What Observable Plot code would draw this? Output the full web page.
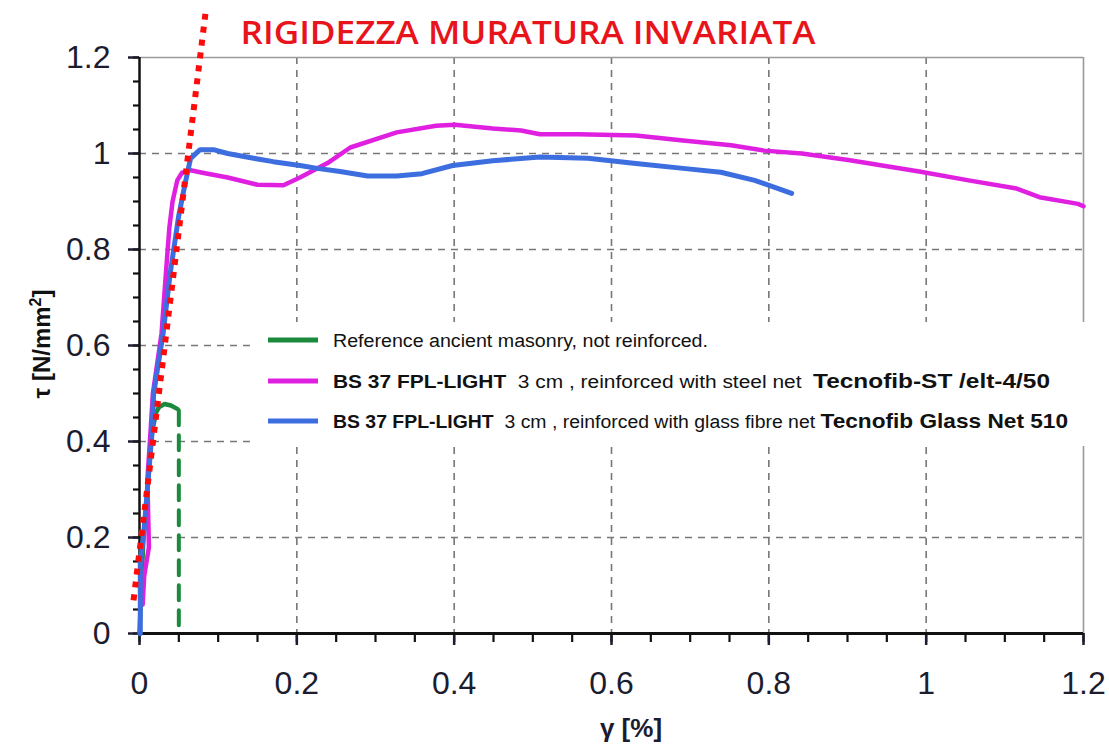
<!DOCTYPE html>
<html>
<head>
<meta charset="utf-8">
<script src="https://cdn.jsdelivr.net/npm/d3@7"></script>
<script src="https://cdn.jsdelivr.net/npm/@observablehq/plot@0.6"></script>
<style>
  html, body { margin: 0; padding: 0; background: #fff; }
  #chart svg { display: block; }
</style>
</head>
<body>
<div id="chart"></div>
<script>
// ---- Data ----
const titleText = "RIGIDEZZA MURATURA INVARIATA";
const xTicks = [0, 0.2, 0.4, 0.6, 0.8, 1, 1.2];
const yTicks = [0, 0.2, 0.4, 0.6, 0.8, 1, 1.2];
const xMinor = d3.range(0, 1.2001, 0.05);
const yMinor = d3.range(0, 1.2001, 0.05);
const xGridTicks = [0.2, 0.4, 0.6, 0.8, 1];
const yGridTicks = [0.2, 0.4, 0.6, 0.8, 1];

// Reference ancient masonry (green)
const gammaRef = [0, 0.005, 0.011, 0.016, 0.021, 0.025, 0.032, 0.04, 0.048];
const tauRef   = [0, 0.2, 0.32, 0.42, 0.46, 0.472, 0.478, 0.475, 0.468];
const gammaRefDrop = [0.05, 0.05];
const tauRefDrop   = [0.465, 0];

// Steel net Tecnofib-ST (magenta)
const gammaSteel = [0.004, 0.006, 0.012, 0.01, 0.014, 0.017, 0.028, 0.034, 0.038, 0.042, 0.048, 0.054, 0.065, 0.08, 0.112, 0.15, 0.183, 0.204, 0.239, 0.268, 0.327, 0.377, 0.401, 0.449, 0.485, 0.509, 0.558, 0.631, 0.691, 0.752, 0.794, 0.842, 0.903, 0.993, 1.054, 1.115, 1.144, 1.193, 1.2];
const tauSteel   = [0.06, 0.12, 0.18, 0.32, 0.42, 0.5, 0.625, 0.76, 0.846, 0.9, 0.944, 0.96, 0.965, 0.96, 0.95, 0.935, 0.934, 0.95, 0.98, 1.0125, 1.044, 1.058, 1.06, 1.052, 1.048, 1.04, 1.04, 1.0375, 1.027, 1.017, 1.006, 1.0, 0.986, 0.962, 0.944, 0.927, 0.909, 0.895, 0.89];

// Glass fibre net Tecnofib Glass Net 510 (blue)
const gammaGlass = [0.001, 0.001, 0.005, 0.011, 0.016, 0.018, 0.03, 0.039, 0.0495, 0.058, 0.065, 0.077, 0.094, 0.112, 0.145, 0.17, 0.204, 0.226, 0.255, 0.29, 0.327, 0.359, 0.398, 0.449, 0.509, 0.57, 0.631, 0.691, 0.739, 0.782, 0.829];
const tauGlass   = [0, 0.15, 0.2, 0.32, 0.42, 0.5, 0.625, 0.75, 0.867, 0.9375, 0.99, 1.008, 1.008, 1.0, 0.99, 0.983, 0.975, 0.969, 0.9625, 0.953, 0.953, 0.958, 0.975, 0.985, 0.9925, 0.99, 0.979, 0.969, 0.961, 0.944, 0.917];

// "Rigidezza" stiffness line (red dotted)
const gammaStiff = [-0.0076, 0.084];
const tauStiff   = [0.069, 1.294];

const legendLabels = [
  {color: "#1b8a3c", parts: [["Reference ancient masonry, not reinforced.", "normal", 18]]},
  {color: "#e020e0", parts: [["BS 37 FPL-LIGHT", "bold", 18], ["  3 cm , reinforced with steel net  ", "normal", 18], ["Tecnofib-ST /elt-4/50", "bold", 21]]},
  {color: "#3d6ee0", parts: [["BS 37 FPL-LIGHT", "bold", 18], ["  3 cm , reinforced with glass fibre net ", "normal", 18], ["Tecnofib Glass Net 510", "bold", 21]]}
];

// ---- Build tables ----
const zip = (xs, ys) => xs.map((x, i) => ({x, y: ys[i]}));
const ref = zip(gammaRef, tauRef);
const refDrop = zip(gammaRefDrop, tauRefDrop);
const steel = zip(gammaSteel, tauSteel);
const glass = zip(gammaGlass, tauGlass);
const stiff = zip(gammaStiff, tauStiff);

const sans = "'Liberation Sans', Arial, sans-serif";
const fmt = d => String(+(+d).toFixed(1));

const chart = Plot.plot({
  width: 1109,
  height: 744,
  marginLeft: 139,
  marginRight: 26,
  marginTop: 57,
  marginBottom: 111,
  x: {domain: [0, 1.2]},
  y: {domain: [0, 1.2]},
  style: {fontFamily: sans, background: "#fff", overflow: "visible"},
  marks: [
    Plot.gridX({ticks: xGridTicks, stroke: "#777", strokeOpacity: 1, strokeWidth: 1.6, strokeDasharray: "7,6"}),
    Plot.gridY({ticks: yGridTicks, stroke: "#777", strokeOpacity: 1, strokeWidth: 1.6, strokeDasharray: "7,6"}),
    Plot.ruleY([1.2], {stroke: "#9a9a9a", strokeWidth: 1.6}),
    Plot.ruleX([1.2], {stroke: "#9a9a9a", strokeWidth: 1.6}),
    Plot.axisX({ticks: xMinor, tickSize: 9, tickFormat: () => "", strokeWidth: 2.2, color: "#111", label: null}),
    Plot.axisX({ticks: xTicks, tickSize: 12, tickPadding: 26, fontSize: 32, tickFormat: fmt, strokeWidth: 2.5, color: "#1c1c30", label: null}),
    Plot.axisY({ticks: yMinor, tickSize: 6, tickFormat: () => "", strokeWidth: 2.2, color: "#111", label: null}),
    Plot.axisY({ticks: yTicks, tickSize: 11, tickPadding: 18, fontSize: 32, tickFormat: fmt, strokeWidth: 2.5, color: "#1c1c30", label: null}),
    Plot.ruleX([0], {stroke: "#111", strokeWidth: 2.5}),
    Plot.ruleY([0], {stroke: "#111", strokeWidth: 3}),
    Plot.line(refDrop, {x: "x", y: "y", stroke: "#1b8a3c", strokeWidth: 4, strokeDasharray: "15,10"}),
    Plot.line(ref, {x: "x", y: "y", stroke: "#1b8a3c", strokeWidth: 4.5}),
    Plot.line(steel, {x: "x", y: "y", stroke: "#e020e0", strokeWidth: 4.5}),
    Plot.line(glass, {x: "x", y: "y", stroke: "#3d6ee0", strokeWidth: 5}),
    Plot.line(stiff, {x: "x", y: "y", stroke: "#ff0a0a", strokeWidth: 6, strokeDasharray: "6,7", strokeLinecap: "butt"})
  ]
});

document.getElementById("chart").appendChild(chart);

const svg = d3.select(chart);

// Title
svg.append("text")
  .attr("x", 528).attr("y", 44)
  .attr("text-anchor", "middle")
  .attr("font-family", "'Open Sans', sans-serif")
  .attr("font-weight", 600)
  .attr("font-size", 33)
  .attr("fill", "#e8141b")
  .attr("textLength", 575)
  .attr("lengthAdjust", "spacingAndGlyphs")
  .text(titleText);

// Axis titles
const yl = svg.append("text")
  .attr("transform", "translate(50,344) rotate(-90)")
  .attr("text-anchor", "middle")
  .attr("font-family", sans)
  .attr("font-weight", "bold")
  .attr("font-size", 24)
  .attr("fill", "#111");
yl.append("tspan").text("τ [N/mm");
yl.append("tspan").attr("dy", -9).attr("font-size", 16).text("2");
yl.append("tspan").attr("dy", 9).text("]");

svg.append("text")
  .attr("x", 631).attr("y", 737)
  .attr("text-anchor", "middle")
  .attr("font-family", sans)
  .attr("font-weight", "bold")
  .attr("font-size", 26)
  .attr("fill", "#1c1c30")
  .text("γ [%]");

// Legend
const lg = svg.append("g").attr("text-anchor", "start");
lg.append("rect").attr("x", 250).attr("y", 322).attr("width", 842).attr("height", 124).attr("fill", "#fff");
const rowsY = [340, 381, 421];
const rowWidths = [375, 717, 735];
legendLabels.forEach((d, i) => {
  lg.append("line").attr("x1", 268).attr("x2", 318).attr("y1", rowsY[i]).attr("y2", rowsY[i])
    .attr("stroke", d.color).attr("stroke-width", 5);
  const t = lg.append("text").attr("x", 333).attr("y", rowsY[i] + 7)
    .attr("text-anchor", "start")
    .attr("font-family", sans).attr("fill", "#111")
    .attr("textLength", rowWidths[i]).attr("lengthAdjust", "spacingAndGlyphs");
  d.parts.forEach(p => {
    t.append("tspan").attr("font-weight", p[1]).attr("font-size", p[2]).style("white-space", "pre").text(p[0]);
  });
});
</script>
</body>
</html>
